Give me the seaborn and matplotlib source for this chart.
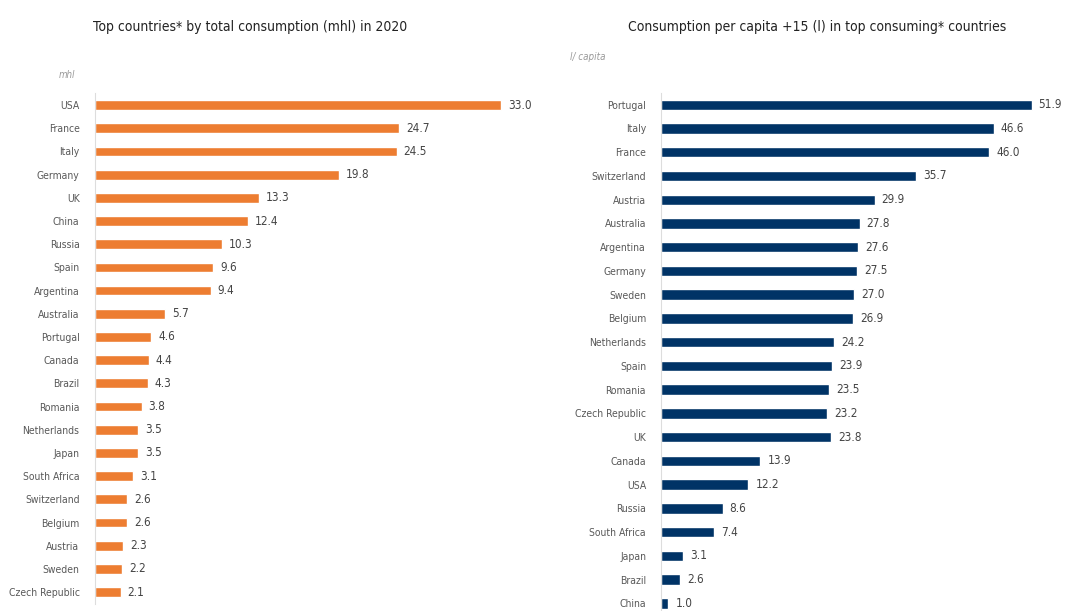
import matplotlib
matplotlib.use("Agg")
import matplotlib.pyplot as plt
import seaborn as sns
import pandas as pd

# Total consumption (mhl), 2020
total_countries = ["USA", "France", "Italy", "Germany", "UK", "China", "Russia", "Spain",
                   "Argentina", "Australia", "Portugal", "Canada", "Brazil", "Romania",
                   "Netherlands", "Japan", "South Africa", "Switzerland", "Belgium",
                   "Austria", "Sweden", "Czech Republic"]
total_mhl = [33.0, 24.7, 24.5, 19.8, 13.3, 12.4, 10.3, 9.6, 9.4, 5.7, 4.6, 4.4, 4.3, 3.8,
             3.5, 3.5, 3.1, 2.6, 2.6, 2.3, 2.2, 2.1]

# Consumption per capita +15 (l)
capita_countries = ["Portugal", "Italy", "France", "Switzerland", "Austria", "Australia",
                    "Argentina", "Germany", "Sweden", "Belgium", "Netherlands", "Spain",
                    "Romania", "Czech Republic", "UK", "Canada", "USA", "Russia",
                    "South Africa", "Japan", "Brazil", "China"]
capita_l = [51.9, 46.6, 46.0, 35.7, 29.9, 27.8, 27.6, 27.5, 27.0, 26.9, 24.2, 23.9, 23.5,
            23.2, 23.8, 13.9, 12.2, 8.6, 7.4, 3.1, 2.6, 1.0]

df_total = pd.DataFrame({"country": total_countries, "value": total_mhl})
df_capita = pd.DataFrame({"country": capita_countries, "value": capita_l})

sns.set_style("white")
plt.rcParams["font.family"] = ["DejaVu Sans"]
plt.rcParams["font.stretch"] = "condensed"

fig = plt.figure(figsize=(10.65, 6.11), dpi=100)
ax1 = fig.add_axes([0.089, 0.012, 0.42, 0.835])
ax2 = fig.add_axes([0.621, -0.007, 0.375, 0.855])


def style(ax, df, color, xmax, width):
    sns.barplot(data=df, y="country", x="value", color=color, width=width,
                saturation=1, ax=ax, orient="h")
    ax.bar_label(ax.containers[0], fmt="%.1f", padding=5, fontsize=8.5, color="#444444")
    ax.set_xlim(0, xmax)
    ax.set_ylim(len(df) - 0.5, -0.5)
    ax.set_xlabel("")
    ax.set_ylabel("")
    ax.set_xticks([])
    ax.tick_params(axis="y", length=0, pad=11, labelsize=7.5, labelcolor="#595959")
    for side in ["top", "right", "bottom"]:
        ax.spines[side].set_visible(False)
    ax.spines["left"].set_color("#dddddd")
    ax.spines["left"].set_linewidth(0.8)


style(ax1, df_total, "#ED7D31", 36.3, 0.42)
style(ax2, df_capita, "#003366", 56.0, 0.44)

fig.text(0.235, 0.956, "Top countries* by total consumption (mhl) in 2020",
         ha="center", va="center", fontsize=10, color="#222222")
fig.text(0.767, 0.956, "Consumption per capita +15 (l) in top consuming* countries",
         ha="center", va="center", fontsize=10, color="#222222")
fig.text(0.071, 0.877, "mhl", ha="right", va="center", fontsize=7,
         style="italic", color="#999999")
fig.text(0.535, 0.907, "l/ capita", ha="left", va="center", fontsize=7,
         style="italic", color="#999999")

fig.savefig("out.png", dpi=100)
